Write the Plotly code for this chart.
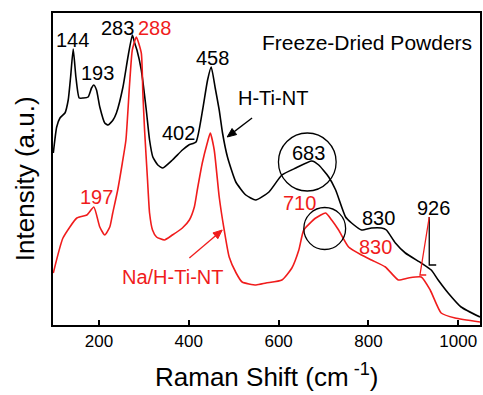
import math
import plotly.graph_objects as go

# Raman shift (cm^-1) and intensity (a.u., offset spectra)
h_ti_nt_x = [98.3, 105.8, 113.1, 124.2, 131.5, 136.8, 142.6, 148.6, 155.9, 164.8, 175.8, 183.4,
             188.5, 194.5, 201.8, 212.9, 220.2, 231.3, 238.8, 253.4, 264.5, 274.3, 279.4, 284.5,
             294.2, 305.3, 312.6, 319.9, 331, 342.1, 363.6, 385.7, 400, 416, 430.7, 441.8, 449.9,
             458.8, 467.7, 475.1, 486.1, 504.7, 526.9, 549, 578.5, 607.3, 638.3, 673.8, 689.3,
             711.5, 727, 749.1, 762.4, 784.6, 806.8, 828.9, 840, 860, 882.2, 917.6, 939.8, 955.3,
             977.5, 1006.3, 1048.4]
h_ti_nt_y = [172, 198, 207, 212, 225, 248, 276, 248, 227, 227, 228, 237,
             240, 235, 218, 202, 200, 205, 212, 238, 268, 290, 282, 275,
             255, 215, 185, 168, 160, 157, 165, 175, 180, 183, 215, 245, 258,
             237, 215, 192, 168, 143, 130, 125, 133, 150, 157, 164, 160,
             148, 135, 108, 102, 95, 97, 97, 95, 82, 72, 62, 55, 45,
             32, 18, 8]

na_h_ti_nt_x = [98.3, 119.8, 150.8, 173, 188.5, 201.8, 212.9, 224, 230.6, 241.7, 252, 260, 268,
                274.2, 283.1, 294.2, 297.7, 301.5, 308.1, 312.6, 319.2, 328.1, 345.8, 363.5,
                385.7, 401.2, 412.3, 418.9, 430, 441.1, 447.8, 456.6, 467.7, 478.8, 489.9, 505.4,
                518.7, 549.7, 571.8, 607.3, 629.5, 645, 656, 682.6, 704.8, 718.1, 733.6, 755.8,
                784.6, 806.8, 837.8, 866.6, 888.8, 917.6, 937.5, 961.9, 992.9, 1048.4]
na_h_ti_nt_y = [52, 87, 107, 110, 118, 98, 90, 98, 112, 135, 162, 185, 240,
                275, 288, 272, 232, 195, 145, 112, 95, 88, 85, 90,
                97, 105, 118, 135, 162, 182, 192, 175, 128, 95, 68, 52,
                43, 40, 42, 45, 57, 75, 95, 107, 112, 105, 95, 78,
                70, 65, 58, 45, 47, 48, 35, 12, 7, 3]

x_ticks = [200, 400, 600, 800, 1000]

black_labels = [("144", 141.9, 285), ("193", 197.3, 252), ("283", 241.7, 297),
                ("458", 452.2, 267), ("402", 376.9, 192), ("683", 667.2, 172),
                ("830", 822.3, 107), ("926", 944.2, 117), ("H-Ti-NT", 587.4, 227)]
red_labels = [("288", 323.7, 297), ("197", 195.1, 128), ("710", 647.3, 122),
              ("830", 815.7, 78), ("Na/H-Ti-NT", 363.6, 48)]

RED = "#f01c1c"
FONT = "Liberation Sans, Arial, sans-serif"

X_RANGE = [97.6, 1048.4]
Y_RANGE = [0, 312]
PLOT_W, PLOT_H = 429, 312
XU = (X_RANGE[1] - X_RANGE[0]) / PLOT_W  # data units per pixel
YU = (Y_RANGE[1] - Y_RANGE[0]) / PLOT_H

fig = go.Figure()
fig.add_trace(go.Scatter(x=h_ti_nt_x, y=h_ti_nt_y, mode="lines",
                         line=dict(color="black", width=1.6, shape="spline", smoothing=0.5),
                         showlegend=False, hoverinfo="skip"))
fig.add_trace(go.Scatter(x=na_h_ti_nt_x, y=na_h_ti_nt_y, mode="lines",
                         line=dict(color=RED, width=1.6, shape="spline", smoothing=0.5),
                         showlegend=False, hoverinfo="skip"))

annotations = []
for t, x, y in black_labels:
    annotations.append(dict(text=t, x=x, y=y, xref="x", yref="y", showarrow=False,
                            font=dict(size=20, color="black", family=FONT)))
for t, x, y in red_labels:
    annotations.append(dict(text=t, x=x, y=y, xref="x", yref="y", showarrow=False,
                            font=dict(size=20, color=RED, family=FONT)))
annotations.append(dict(text="Freeze-Dried Powders", x=795.7, y=283, xref="x", yref="y",
                        showarrow=False, font=dict(size=21, color="black", family=FONT)))
# axis titles
annotations.append(dict(text="Raman Shift (cm<sup> -1</sup>)", x=0.5, y=-0.222,
                        xref="paper", yref="paper", showarrow=False,
                        font=dict(size=26, color="black", family=FONT)))
annotations.append(dict(text="Intensity (a.u.)", x=-0.105, y=0.468, textangle=-90,
                        xref="paper", yref="paper", showarrow=False,
                        font=dict(size=26, color="black", family=FONT)))


def arrow(x_tail, y_tail, x_head, y_head, color):
    dxp = (x_head - x_tail) / XU
    dyp = (y_head - y_tail) / YU
    n = math.hypot(dxp, dyp)
    ux, uy = dxp / n, dyp / n
    L, W = 9, 3.8
    bx, by = -ux * L, -uy * L
    px, py = -uy * W, ux * W
    p1 = (x_head + (bx + px) * XU, y_head + (by + py) * YU)
    p2 = (x_head + (bx - px) * XU, y_head + (by - py) * YU)
    base = (x_head + bx * 0.8 * XU, y_head + by * 0.8 * YU)
    return [
        dict(type="line", xref="x", yref="y", x0=x_tail, y0=y_tail, x1=base[0], y1=base[1],
             line=dict(color=color, width=1.3)),
        dict(type="path", xref="x", yref="y",
             path=f"M {x_head} {y_head} L {p1[0]} {p1[1]} L {p2[0]} {p2[1]} Z",
             fillcolor=color, line=dict(color=color, width=1)),
    ]


shapes = [
    dict(type="circle", xref="x", yref="y", x0=599.6, x1=728.1, y0=134, y1=192,
         line=dict(color="black", width=1.3)),
    dict(type="circle", xref="x", yref="y", x0=656.1, x1=749.2, y0=75.5, y1=117.5,
         line=dict(color="black", width=1.3)),
    dict(type="path", xref="x", yref="y", path="M 935.4 108 L 935.4 60 L 950.9 60",
         line=dict(color="black", width=1.3)),
    dict(type="path", xref="x", yref="y", path="M 935.4 108 L 914.7 50 L 928.7 50",
         line=dict(color=RED, width=1.3)),
]
shapes += arrow(540.9, 207, 485.5, 188, "black")
shapes += arrow(401.2, 67, 474.4, 95, RED)

fig.update_layout(
    width=483, height=395,
    margin=dict(l=53, r=1, t=13, b=70),
    paper_bgcolor="white", plot_bgcolor="white",
    font=dict(family=FONT, color="black"),
    annotations=annotations, shapes=shapes,
    xaxis=dict(range=X_RANGE, tickvals=x_ticks, ticks="inside", ticklen=5,
               tickwidth=1.5, tickcolor="black", showline=True, linecolor="black",
               linewidth=1.5, mirror=True, showgrid=False, zeroline=False,
               tickfont=dict(size=17, color="black", family=FONT)),
    yaxis=dict(range=Y_RANGE, showticklabels=False, ticks="", showline=True,
               linecolor="black", linewidth=1.5, mirror=True, showgrid=False,
               zeroline=False),
)

fig.write_html("out.html")
